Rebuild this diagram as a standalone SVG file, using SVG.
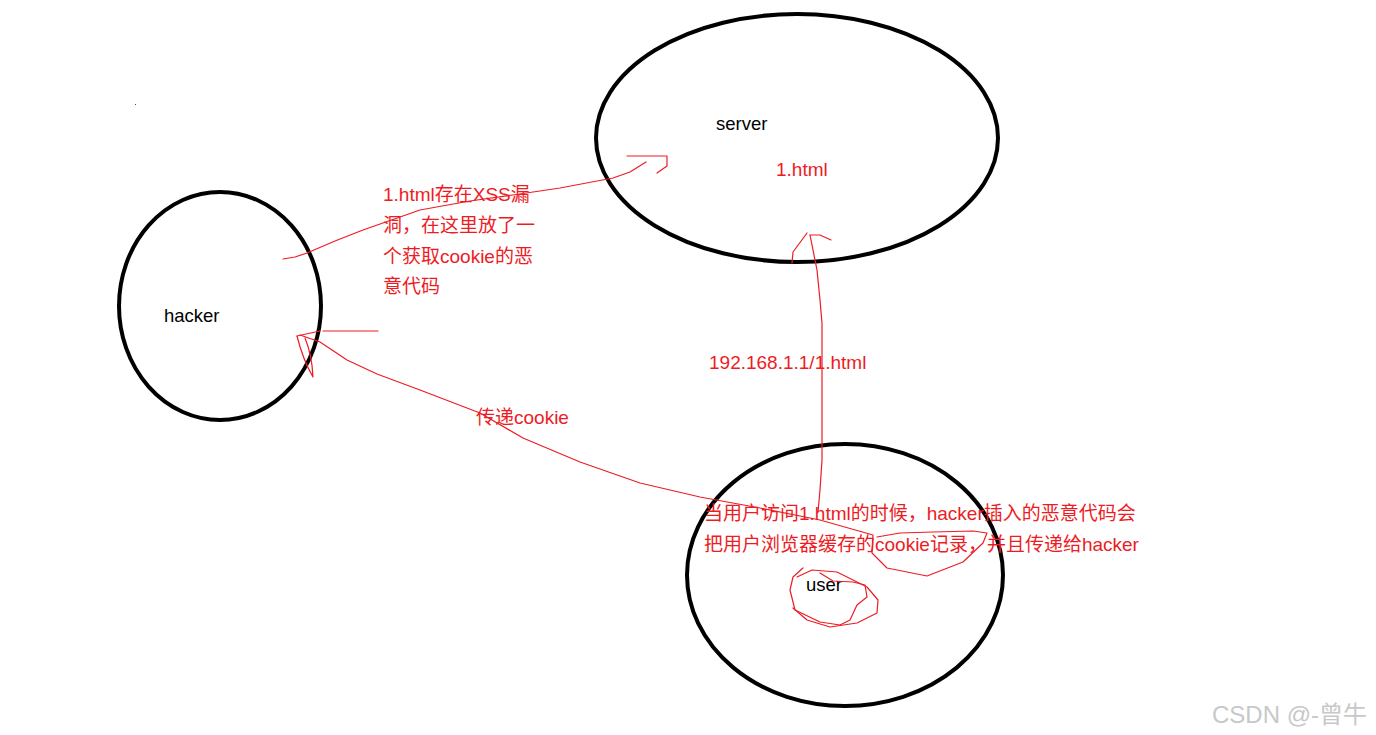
<svg xmlns="http://www.w3.org/2000/svg" width="1376" height="735" viewBox="0 0 1376 735">
<style>
.node{fill:none;stroke:#000;stroke-width:4}
.lbl{font-family:"Liberation Sans","Noto Sans CJK SC",sans-serif;font-size:18.5px;fill:#000}
.red{font-family:"Liberation Sans","Noto Sans CJK SC",sans-serif;font-size:19px;fill:#ED1C24}
.ln{fill:none;stroke:#ED1C24;stroke-width:1.2;stroke-linejoin:round;stroke-linecap:round}
.wm{font-family:"Liberation Sans","Noto Sans CJK SC",sans-serif;font-size:24px;fill:#c8c8c8}
</style>
<rect width="1376" height="735" fill="#fff"/>
<rect x="135" y="104" width="1" height="1" fill="#552"/>
<g id="server">
<ellipse class="node" cx="797" cy="138" rx="201" ry="124"/>
<text class="lbl" x="716" y="130">server</text>
<text class="red" x="776" y="176">1.html</text>
</g>
<g id="hacker">
<ellipse class="node" cx="220" cy="306" rx="101" ry="114"/>
<text class="lbl" x="164" y="322">hacker</text>
</g>
<g id="user">
<ellipse class="node" cx="845" cy="575" rx="158" ry="131"/>
<text class="lbl" x="806" y="591">user</text>
</g>
<g id="connectors">
<path class="ln" d="M283,259 L295,257 L307,253 L335,241 L363,230 L420,210 L470,201 L513,195 L560,188 L613,178 L630,172 L646,162"/>
<path class="ln" d="M627,156 L667,156 L667,166 L657,173"/>
<path class="ln" d="M323,331 L378,331"/>
<path class="ln" d="M297,336 L320,331"/>
<path class="ln" d="M297,336 Q303,360 313,377 Q312,355 305,338"/>
<path class="ln" d="M300,335 L320,342 L347,360 L377,374 L420,390 L480,413 L523,438 L580,462 L640,483 L700,497 L760,508 L820,520 L873,535 L872,553 L887,568 L927,576 L963,562 L983,543 L987,533 L973,531 L933,532 L900,533 L877,537"/>
<path class="ln" d="M818,512 L820,490 L822,460 L822,400 L822,323 L820,300 L817,270 L810,235"/>
<path class="ln" d="M807,233 L793,252 L792,263"/>
<path class="ln" d="M810,235 L820,235 L831,240"/>
<path class="ln" d="M803,568 L793,577 L790,590 L795,610 L820,622 L840,625 L850,620 L857,605 L867,597 L865,585 L853,582 L833,581 L820,573"/>
<path class="ln" d="M797,577 L812,570 L837,572 L867,587 L878,600 L877,613 L857,623 L830,627 L807,620 L793,608"/>
</g>
<g id="labels">
<text class="red" x="383" y="201">1.html存在XSS漏</text>
<text class="red" x="383" y="232">洞，在这里放了一</text>
<text class="red" x="383" y="263">个获取cookie的恶</text>
<text class="red" x="383" y="293">意代码</text>
<text class="red" x="709" y="369">192.168.1.1/1.html</text>
<text class="red" x="476" y="424">传递cookie</text>
<text class="red" x="704" y="520">当用户访问1.html的时候，hacker插入的恶意代码会</text>
<text class="red" x="704" y="551">把用户浏览器缓存的cookie记录，并且传递给hacker</text>
</g>
<text class="wm" x="1212" y="723">CSDN @-曾牛</text>
</svg>
